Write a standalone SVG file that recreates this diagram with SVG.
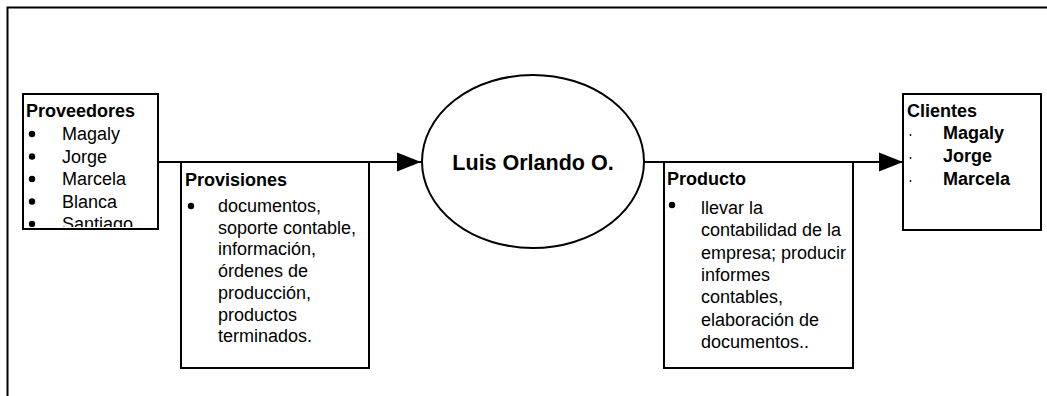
<svg xmlns="http://www.w3.org/2000/svg" width="1047" height="396" viewBox="0 0 1047 396">
  <style>
    .box { fill: #fff; stroke: #000; stroke-width: 2; }
    .line { fill: none; stroke: #000; stroke-width: 2; }
    text { font-family: "Liberation Sans", Arial, sans-serif; font-size: 18px; fill: #000; }
    .b { font-weight: bold; }
    .title { font-weight: bold; font-size: 21.5px; }
  </style>
  <defs>
    <marker id="arrow" markerUnits="userSpaceOnUse" markerWidth="26" markerHeight="20" refX="24" refY="10" orient="auto">
      <path d="M0,0.5 L24,10 L0,19.5 Z" fill="#000"/>
    </marker>
    <clipPath id="provClip">
      <rect x="24" y="95" width="133" height="132"/>
    </clipPath>
  </defs>

  <!-- page frame (top and left edges) -->
  <path class="line" d="M7.5,396 V7.5 H1047"/>

  <!-- connectors -->
  <g id="connectors">
    <path class="line" d="M158,162 H421" marker-end="url(#arrow)"/>
    <path class="line" d="M644,162 H903" marker-end="url(#arrow)"/>
  </g>

  <!-- suppliers -->
  <g id="proveedores">
    <rect class="box" x="23" y="94" width="135" height="135"/>
    <g clip-path="url(#provClip)">
      <text class="b" x="26" y="117">Proveedores</text>
      <g>
        <circle cx="32" cy="134" r="3.2"/>
        <text x="62" y="140">Magaly</text>
        <circle cx="32" cy="156.5" r="3.2"/>
        <text x="62" y="162.5">Jorge</text>
        <circle cx="32" cy="179" r="3.2"/>
        <text x="62" y="185">Marcela</text>
        <circle cx="32" cy="201.5" r="3.2"/>
        <text x="62" y="207.5">Blanca</text>
        <circle cx="32" cy="224" r="3.2"/>
        <text x="62" y="230">Santiago</text>
      </g>
    </g>
  </g>

  <!-- inputs -->
  <g id="provisiones">
    <rect class="box" x="181" y="162" width="188" height="206"/>
    <text class="b" x="185" y="186">Provisiones</text>
    <circle cx="191" cy="206" r="3.2"/>
    <text x="218" y="212">documentos,</text>
    <text x="218" y="233.7">soporte contable,</text>
    <text x="218" y="255.4">información,</text>
    <text x="218" y="277.1">órdenes de</text>
    <text x="218" y="298.8">producción,</text>
    <text x="218" y="320.5">productos</text>
    <text x="218" y="342.2">terminados.</text>
  </g>

  <!-- process owner -->
  <g id="proceso">
    <ellipse cx="533" cy="161.5" rx="111" ry="86.5" fill="#fff" stroke="#000" stroke-width="2"/>
    <text class="title" x="533" y="170" text-anchor="middle">Luis Orlando O.</text>
  </g>

  <!-- outputs -->
  <g id="producto">
    <rect class="box" x="664" y="162" width="189" height="206"/>
    <text class="b" x="667" y="185">Producto</text>
    <circle cx="672" cy="205" r="3.2"/>
    <text x="701" y="214">llevar la</text>
    <text x="701" y="236.3">contabilidad de la</text>
    <text x="701" y="258.6">empresa; producir</text>
    <text x="701" y="281">informes</text>
    <text x="701" y="303.2">contables,</text>
    <text x="701" y="325.5">elaboración de</text>
    <text x="701" y="348">documentos..</text>
  </g>

  <!-- customers -->
  <g id="clientes">
    <rect class="box" x="903" y="94" width="138" height="136"/>
    <text class="b" x="907" y="117">Clientes</text>
    <circle cx="910.5" cy="135" r="0.9"/>
    <text class="b" x="943" y="139">Magaly</text>
    <circle cx="910.5" cy="158" r="0.9"/>
    <text class="b" x="943" y="162">Jorge</text>
    <circle cx="910.5" cy="181" r="0.9"/>
    <text class="b" x="943" y="185">Marcela</text>
  </g>
</svg>
